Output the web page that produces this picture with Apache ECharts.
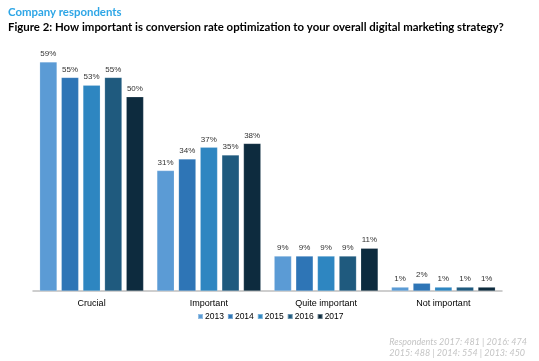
<!DOCTYPE html>
<html><head><meta charset="utf-8">
<script src="https://cdn.jsdelivr.net/npm/echarts@6/dist/echarts.min.js"></script>
<style>html,body{margin:0;padding:0;background:#fff}#c{width:539px;height:361px}</style>
</head><body><div id="c"></div>
<script>
const categories = ['Crucial', 'Important', 'Quite important', 'Not important'];
const years = ['2013', '2014', '2015', '2016', '2017'];
const v2013 = [59, 31, 9, 1];
const v2014 = [55, 34, 9, 2];
const v2015 = [53, 37, 9, 1];
const v2016 = [55, 35, 9, 1];
const v2017 = [50, 38, 11, 1];
const colors = ['#5B9BD5', '#2E75B6', '#2E86C1', '#1F5A7E', '#0D2B3E'];
const seriesValues = [v2013, v2014, v2015, v2016, v2017];

const chart = echarts.init(document.getElementById('c'));
chart.setOption({
  animation: false,
  title: [
    { text: 'Company respondents', left: 8, top: 7, padding: 0,
      textStyle: { fontFamily: 'Lato', fontWeight: 'bold', fontSize: 11.4, color: '#2EA6E6' } },
    { text: 'Figure 2: How important is conversion rate optimization to your overall digital marketing strategy?', left: 8, top: 22, padding: 0,
      textStyle: { fontFamily: 'Lato', fontWeight: 'bold', fontSize: 11.4, color: '#000' } }
  ],
  graphic: [
    { type: 'text', right: 12, top: 336,
      style: { text: 'Respondents 2017: 481 | 2016: 474\n2015: 488 | 2014: 554 | 2013: 450', align: 'right',
        font: 'italic 9px Lato', fill: '#C4C4C4', lineHeight: 11.5 } }
  ],
  legend: {
    data: years, left: 197, top: 312, itemWidth: 5, itemHeight: 5, itemGap: 3,
    icon: 'rect', padding: 0,
    textStyle: { fontFamily: 'Arial', fontSize: 8.5, color: '#000', padding: [0, 0, 0, -3] }
  },
  grid: { left: 33, right: 37, top: 58, bottom: 70 },
  xAxis: {
    type: 'category', data: categories,
    axisLine: { lineStyle: { color: '#BFBFBF', width: 1.5 } },
    axisTick: { show: false },
    axisLabel: { fontFamily: 'Arial', fontSize: 9, color: '#000', margin: 8 }
  },
  yAxis: { type: 'value', min: 0, max: 60, show: false, splitLine: { show: false } },
  series: seriesValues.map((vals, i) => ({
    name: years[i], type: 'bar', data: vals,
    barGap: '25%', barCategoryGap: '11.4%',
    itemStyle: { color: colors[i], borderColor: 'rgba(255,255,255,0.35)', borderWidth: 0.5 },
    label: { show: true, position: 'top', distance: 4, formatter: '{c}%',
      fontFamily: 'Arial', fontSize: 8, color: '#333' }
  }))
});
</script></body></html>
